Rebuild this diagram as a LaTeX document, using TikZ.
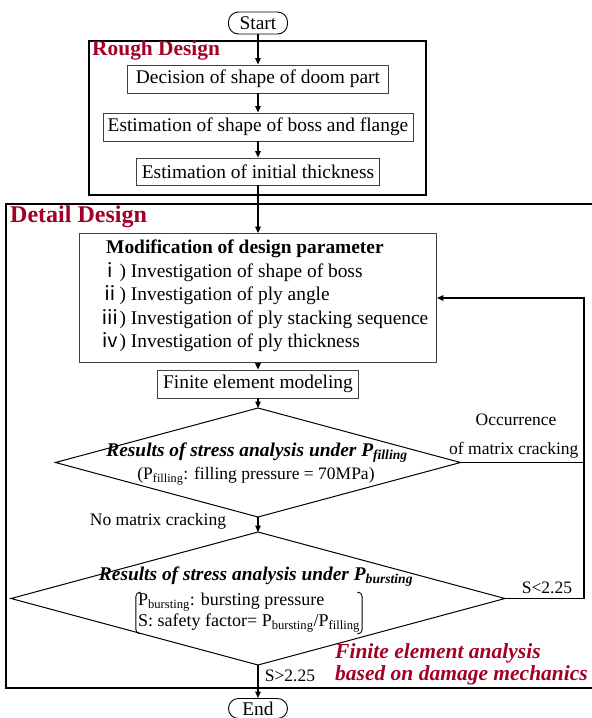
\documentclass[tikz,border=0pt]{standalone}
\usepackage{fontspec}
\setmainfont{Liberation Serif}
\newfontfamily\cjk{Noto Sans CJK JP}
\usetikzlibrary{shapes.geometric,arrows.meta}
\definecolor{dred}{RGB}{162,0,38}
\newcommand{\Pf}{P\textsubscript{filling}}
\newcommand{\Pb}{P\textsubscript{bursting}}

\begin{document}
\begin{tikzpicture}[x=1pt,y=-1pt,
    every node/.style={font=\fontsize{19.4}{23.5}\selectfont},
    proc/.style={draw=black!75,line width=0.8pt,inner sep=0pt,minimum height=28pt},
    term/.style={draw,line width=0.9pt,rounded corners=10pt,inner sep=0pt,minimum width=59pt,minimum height=22pt},
    dec/.style={draw,diamond,line width=1pt,inner sep=0pt,outer sep=0pt},
    arr/.style={line width=1.3pt,-{Triangle[length=6.5pt,width=5.5pt]}},
    frame/.style={line width=1.6pt},
    lab/.style={font=\fontsize{17.5}{21}\selectfont},
    hdr/.style={text=dred,inner sep=0pt,anchor=west}]
    \useasboundingbox (0,0) rectangle (592,718);
    \draw[frame] (89,41) rectangle (426,195);
    \draw[frame] (6,204) rectangle (600,688);
    \node (start) at (258,23) [term] {Start};
    \node (rough) at (92,50) [hdr,font=\bfseries\fontsize{21.4}{24}\selectfont] {Rough Design};
    \node (b1) at (258,79) [proc,minimum width=261pt] {Decision of shape of doom part};
    \node (b2) at (258,127) [proc,minimum width=310pt] {Estimation of shape of boss and flange};
    \node (b3) at (258,171.5) [proc,minimum width=243pt,minimum height=27pt] {Estimation of initial thickness};
    \node (detail) at (10,217) [hdr,font=\bfseries\fontsize{24}{26}\selectfont] {Detail Design};
    \node (mod) at (258,298) [proc,minimum width=357pt,minimum height=129pt] {};
    \node (modtxt) at (100,296) [anchor=west,align=left,inner sep=0pt] {\hspace*{6pt}\textbf{Modification of design parameter}\\
      {\cjk ⅰ}) Investigation of shape of boss\\
      {\cjk ⅱ}) Investigation of ply angle\\
      {\cjk ⅲ}) Investigation of ply stacking sequence\\
      {\cjk ⅳ}) Investigation of ply thickness};
    \node (fem) at (258,384) [proc,minimum width=201pt] {Finite element modeling};
    \node (d1) at (258,462.5) [dec,minimum width=405pt,minimum height=109pt] {};
    \node (d1t) at (257,453) [font=\bfseries\itshape\fontsize{19.4}{23}\selectfont] {Results of stress analysis under \Pf};
    \node (d1s) at (256,476) [lab] {(\Pf: filling pressure = 70MPa)};
    \node (d2) at (258,598.5) [dec,minimum width=494pt,minimum height=133pt] {};
    \node (d2t) at (256,577) [font=\bfseries\itshape\fontsize{19.4}{23}\selectfont] {Results of stress analysis under \Pb};
    \node (brk) at (249,613) [align=left,inner xsep=2pt,inner ysep=1pt,font=\fontsize{18}{21}\selectfont] {\Pb: bursting pressure\\S: safety factor= \Pb/\Pf};
    \draw[line width=0.9pt,rounded corners=4pt] ([xshift=5pt]brk.north west) -- (brk.north west) -- (brk.south west) -- ([xshift=5pt]brk.south west);
    \draw[line width=0.9pt,rounded corners=4pt] ([xshift=-5pt]brk.north east) -- (brk.north east) -- (brk.south east) -- ([xshift=-5pt]brk.south east);
    \node (end) at (258,708.5) [term,minimum height=20pt] {End};
    \node (nomc) at (158,521) [lab] {No matrix cracking};
    \node (occ1) at (516,420) [lab] {Occurrence};
    \node (occ2) at (582,450) [lab,anchor=east] {of matrix cracking};
    \node (slt) at (547,588) [lab] {S<2.25};
    \node (sgt) at (290,676) [lab] {S>2.25};
    \node (fea) at (335,664) [hdr,align=left,font=\bfseries\itshape\fontsize{21.5}{22}\selectfont] {Finite element analysis\\based on damage mechanics};
    \coordinate (fb) at (584,298);
    \draw[arr] (start) -- (b1);
    \draw[arr] (b1) -- (b2);
    \draw[arr] (b2) -- (b3);
    \draw[arr] (b3) -- (mod);
    \draw[arr] (mod) -- (fem);
    \draw[arr] (fem) -- (d1);
    \draw[arr] (d1) -- (d2);
    \draw[arr] (d2) -- (end);
    \draw[arr] (d2.east) -| (fb) -- (mod.east);
    \draw[line width=1.3pt] (d1.east) -- (d1.east -| fb);
\end{tikzpicture}
\end{document}
